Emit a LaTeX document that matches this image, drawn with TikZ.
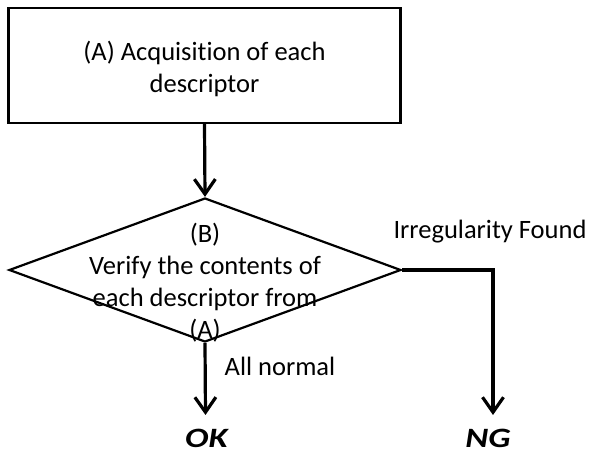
\documentclass[tikz,border=0pt]{standalone}
\usepackage{fontspec}
\usepackage{graphicx}
\setmainfont{Carlito}[Ligatures=NoCommon]
\usetikzlibrary{arrows.meta,shapes.geometric}
\begin{document}
\begin{tikzpicture}[x=1pt,y=-1pt,
  txt/.style={font=\fontsize{26.5}{32}\selectfont, inner sep=0pt},
  stepbox/.style={draw, line width=2.2pt, minimum width=392pt, minimum height=115pt, inner sep=0pt},
  decision/.style={draw, diamond, line width=2.2pt, minimum width=392pt, minimum height=144pt,
    inner sep=0pt},
  flow/.style={line width=3.2pt, -{Straight Barb[length=15pt,width=21pt]}},
  result/.style={font=\fontsize{28}{32}\selectfont\bfseries\itshape, inner sep=0pt, anchor=base}
]
\useasboundingbox (0,0) rectangle (590,465);

% process step
\node[stepbox] (acq) at (204.5,65.5) {};
\node[txt, align=center] (acqtxt) at (204.5,69) {(A) Acquisition of each\\descriptor};

% decision
\node[decision] (chk) at (205,270) {};
\node[txt, align=center] (chktxt) at (205,283) {(B)\\Verify the contents of\\each descriptor from\\(A)};

% branch labels
\node[txt, anchor=base] (irr) at (490,239) {Irregularity Found};
\node[txt, anchor=base] (norm) at (280,376) {All normal};

% outcomes
\node[result] (ok) at (206.5,448) {\scalebox{1.25}[1]{OK}};
\node[result] (ng) at (488,448) {\scalebox{1.25}[1]{NG}};
\coordinate (okend) at (205.5,415);
\coordinate (ngend) at (493,415);

% connectors
\draw[flow] (acq.south) -- (chk.north);
\draw[flow] (chk.south) -- (okend);
\draw[flow] (chk.east) -| (ngend);
\end{tikzpicture}
\end{document}
